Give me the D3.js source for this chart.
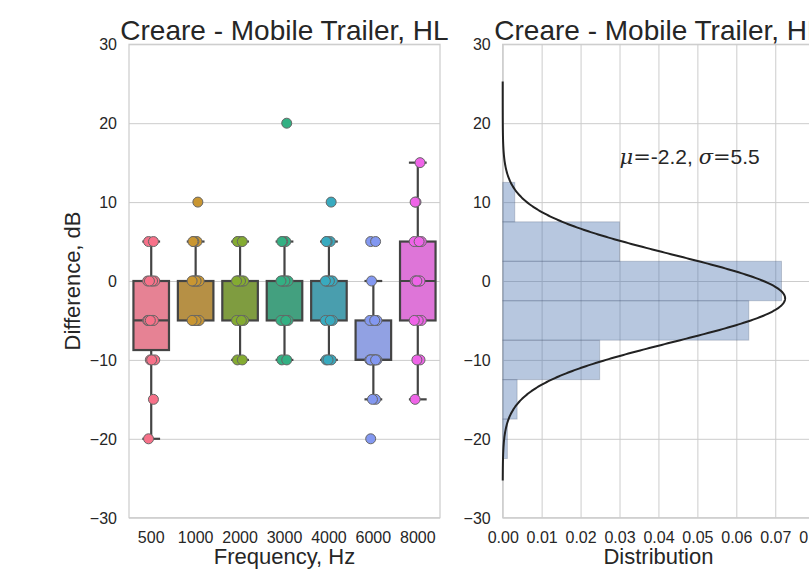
<!DOCTYPE html>
<html>
<head>
<meta charset="utf-8">
<script src="https://cdn.jsdelivr.net/npm/d3@7"></script>
<style>
body { margin: 0; background: #fff; }
svg text { font-family: "Liberation Sans", Arial, sans-serif; fill: #262626; }
</style>
</head>
<body>
<div id="chart"></div>
<script>
// categories and point colours (husl palette)
const freqs = ['500', '1000', '2000', '3000', '4000', '6000', '8000']
const freqColors = ['#f77189', '#c99632', '#84ab31', '#33b083', '#38aabf', '#8398f1', '#ef64e8']

// differences in dB per frequency
const diff500 = [-20, -15, -10, -10, -10, -5, -5, -5, -5, -5, -5, 0, 0, 0, 0, 0, 5, 5]
const diff1000 = [-5, -5, -5, -5, -5, -5, 0, 0, 0, 0, 0, 0, 0, 0, 5, 5, 5, 10]
const diff2000 = [-10, -10, -5, -5, -5, -5, -5, 0, 0, 0, 0, 0, 0, 0, 5, 5, 5, 5]
const diff3000 = [-10, -10, -5, -5, -5, -5, -5, 0, 0, 0, 0, 0, 0, 0, 5, 5, 5, 20]
const diff4000 = [-10, -10, -10, -5, -5, -5, -5, 0, 0, 0, 0, 0, 0, 0, 5, 5, 5, 10]
const diff6000 = [-20, -15, -15, -10, -10, -10, -10, -10, -10, -10, -5, -5, -5, -5, -5, 0, 5, 5]
const diff8000 = [-15, -10, -10, -5, -5, -5, 0, 0, 0, 0, 0, 5, 5, 5, 5, 10, 10, 15]
const diffs = [diff500, diff1000, diff2000, diff3000, diff4000, diff6000, diff8000]

// histogram (horizontal), bin edges in dB and density per bin
const binEdges = [-22.5, -17.5, -12.5, -7.5, -2.5, 2.5, 7.5, 12.5]
const binDensity = [0.0012, 0.0037, 0.0249, 0.0632, 0.0716, 0.0300, 0.0031]

// fitted normal
const mu = -2.2
const sigma = 5.5
const fitRange = [-25.3, 25.3]

const yTicks = [-30, -20, -10, 0, 10, 20, 30]
const distTicks = [0, 0.01, 0.02, 0.03, 0.04, 0.05, 0.06, 0.07, 0.08]
const title = 'Creare - Mobile Trailer, HL'

const W = 809, H = 571
const plotTop = 44.3, plotBottom = 517.7
const L = {x0: 129, x1: 440}
const R = {x0: 502.7, x1: 814.2}
const tickFont = 16
const gridColor = '#cccccc'

const svg = d3.select('#chart').append('svg')
    .attr('width', W)
    .attr('height', H)

const y = d3.scaleLinear().domain([-30, 30]).range([plotBottom, plotTop])

function styleAxis(g){
    g.select('.domain').remove()
    g.selectAll('.tick line').attr('stroke', gridColor).attr('stroke-width', 1)
    g.selectAll('.tick text').attr('font-size', tickFont).attr('fill', '#262626')
}

function yAxis(panel){
    svg.append('g')
        .attr('transform', `translate(${panel.x0},0)`)
        .call(d3.axisLeft(y).tickValues(yTicks).tickSize(-(panel.x1 - panel.x0)).tickPadding(12))
        .call(styleAxis)
        .selectAll('.tick text').attr('dy', '0.35em')
}

function spines(panel){
    svg.append('rect')
        .attr('x', panel.x0).attr('y', plotTop)
        .attr('width', panel.x1 - panel.x0).attr('height', plotBottom - plotTop)
        .attr('fill', 'none').attr('stroke', gridColor).attr('stroke-width', 1.2)
}

// ---------- left panel: box + strip ----------
const x = d3.scaleBand().domain(freqs).range([L.x0, L.x1])
const band = x.bandwidth()
const boxW = band * 0.8
const capW = boxW * 0.5
const boxEdge = '#444'

yAxis(L)
spines(L)

svg.append('g')
    .attr('transform', `translate(0,${plotBottom})`)
    .call(d3.axisBottom(x).tickSize(0).tickPadding(14))
    .call(styleAxis)

function boxStats(vals){
    const s = vals.slice().sort(d3.ascending)
    const q1 = d3.quantileSorted(s, 0.25)
    const med = d3.quantileSorted(s, 0.5)
    const q3 = d3.quantileSorted(s, 0.75)
    const iqr = q3 - q1
    const lo = d3.min(s.filter(v => v >= q1 - 1.5 * iqr))
    const hi = d3.max(s.filter(v => v <= q3 + 1.5 * iqr))
    return {q1, med, q3, lo, hi}
}

const boxData = freqs.map((f, i) => {
    const c = d3.hsl(freqColors[i])
    c.s *= 0.75 // seaborn desaturation of the box fill
    return Object.assign({freq: f, fill: c.formatHex()}, boxStats(diffs[i]))
})

const boxes = svg.append('g').selectAll('g')
    .data(boxData)
    .join('g')
    .attr('transform', d => `translate(${x(d.freq) + band / 2},0)`)

// whiskers
boxes.append('line')
    .attr('y1', d => y(d.q1)).attr('y2', d => y(d.lo))
    .attr('stroke', boxEdge).attr('stroke-width', 2.2)
boxes.append('line')
    .attr('y1', d => y(d.q3)).attr('y2', d => y(d.hi))
    .attr('stroke', boxEdge).attr('stroke-width', 2.2)
// caps
boxes.append('line')
    .attr('x1', -capW / 2).attr('x2', capW / 2)
    .attr('y1', d => y(d.lo)).attr('y2', d => y(d.lo))
    .attr('stroke', boxEdge).attr('stroke-width', 2.2)
boxes.append('line')
    .attr('x1', -capW / 2).attr('x2', capW / 2)
    .attr('y1', d => y(d.hi)).attr('y2', d => y(d.hi))
    .attr('stroke', boxEdge).attr('stroke-width', 2.2)
boxes.append('rect')
    .attr('x', -boxW / 2).attr('width', boxW)
    .attr('y', d => y(d.q3)).attr('height', d => y(d.q1) - y(d.q3))
    .attr('fill', d => d.fill)
    .attr('stroke', boxEdge).attr('stroke-width', 2.2)
boxes.append('line')
    .attr('x1', -boxW / 2).attr('x2', boxW / 2)
    .attr('y1', d => y(d.med)).attr('y2', d => y(d.med))
    .attr('stroke', boxEdge).attr('stroke-width', 2.2)

// strip points with a fixed jitter pattern
const jitter = [-0.06, 0.05, -0.02, 0.08, 0.01, -0.08, 0.03, -0.04]
const points = []
diffs.forEach((vals, i) => {
    vals.forEach((v, j) => points.push({freq: freqs[i], value: v, color: freqColors[i], dx: jitter[j % jitter.length]}))
})

svg.append('g').selectAll('circle')
    .data(points)
    .join('circle')
    .attr('cx', d => x(d.freq) + band / 2 + d.dx * band)
    .attr('cy', d => y(d.value))
    .attr('r', 5)
    .attr('fill', d => d.color)
    .attr('stroke', '#666')
    .attr('stroke-width', 1)

// ---------- right panel: histogram + normal fit ----------
const xd = d3.scaleLinear().domain([0, 0.08]).range([R.x0, R.x1])

svg.append('g')
    .attr('transform', `translate(0,${plotBottom})`)
    .call(d3.axisBottom(xd).tickValues(distTicks).tickFormat(d3.format('.2f'))
        .tickSize(-(plotBottom - plotTop)).tickPadding(14))
    .call(styleAxis)
    .selectAll('.tick text').attr('dy', '0.71em')

yAxis(R)
spines(R)

const bins = binDensity.map((d, i) => ({lo: binEdges[i], hi: binEdges[i + 1], density: d}))

svg.append('g').selectAll('rect')
    .data(bins)
    .join('rect')
    .attr('x', xd(0))
    .attr('width', d => xd(d.density) - xd(0))
    .attr('y', d => y(d.hi))
    .attr('height', d => y(d.lo) - y(d.hi))
    .attr('fill', '#4c72b0').attr('fill-opacity', 0.4)
    .attr('stroke', '#3a4a66').attr('stroke-opacity', 0.25).attr('stroke-width', 1)

const pdf = v => Math.exp(-0.5 * ((v - mu) / sigma) ** 2) / (sigma * Math.sqrt(2 * Math.PI))
const fitPts = d3.range(fitRange[0], fitRange[1] + 0.001, 0.1)

svg.append('path')
    .datum(fitPts)
    .attr('d', d3.line().x(v => xd(pdf(v))).y(v => y(v)))
    .attr('fill', 'none')
    .attr('stroke', '#222')
    .attr('stroke-width', 2)

const stat = svg.append('text')
    .attr('x', xd(0.03)).attr('y', y(15) + 1)
    .attr('font-size', 21)
stat.append('tspan').attr('font-family', '"DejaVu Serif", serif').attr('font-style', 'italic').text('μ')
stat.append('tspan').attr('font-family', '"DejaVu Serif", serif').text('=')
stat.append('tspan').text(`-${Math.abs(mu)}, `)
stat.append('tspan').attr('font-family', '"DejaVu Serif", serif').attr('font-style', 'italic').text('σ')
stat.append('tspan').attr('font-family', '"DejaVu Serif", serif').text('=')
stat.append('tspan').text(sigma)

// ---------- titles and labels ----------
svg.append('text')
    .attr('x', (L.x0 + L.x1) / 2).attr('y', 40)
    .attr('text-anchor', 'middle').attr('font-size', 28)
    .text(title)
svg.append('text')
    .attr('x', (R.x0 + R.x1) / 2).attr('y', 40)
    .attr('text-anchor', 'middle').attr('font-size', 28)
    .text(title)

svg.append('text')
    .attr('x', (L.x0 + L.x1) / 2).attr('y', 564)
    .attr('text-anchor', 'middle').attr('font-size', 22)
    .text('Frequency, Hz')
svg.append('text')
    .attr('x', (R.x0 + R.x1) / 2).attr('y', 564)
    .attr('text-anchor', 'middle').attr('font-size', 22)
    .text('Distribution')
svg.append('text')
    .attr('transform', `translate(80,${(plotTop + plotBottom) / 2}) rotate(-90)`)
    .attr('text-anchor', 'middle').attr('font-size', 22)
    .text('Difference, dB')
</script>
</body>
</html>
